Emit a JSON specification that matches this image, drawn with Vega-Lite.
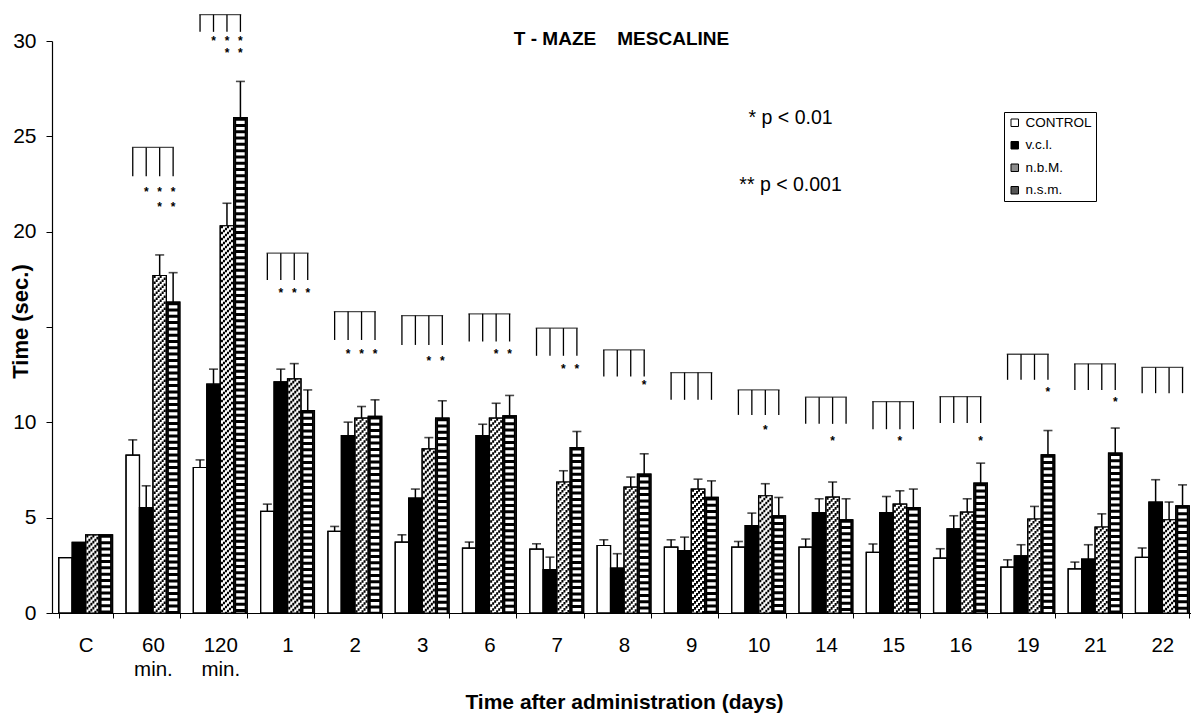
{
  "$schema": "https://vega.github.io/schema/vega-lite/v6.json",
  "autosize": {"type": "none"},
  "width": 1139,
  "height": 572,
  "padding": {"left": 52, "top": 41, "right": 0, "bottom": 102},
  "background": "white",
  "config": {"font": "Liberation Sans", "view": {"stroke": null}},
  "title": {"text": "T - MAZE\u00a0\u00a0\u00a0\u00a0MESCALINE", "fontSize": 19, "fontWeight": "bold", "font": "Liberation Sans", "color": "black", "anchor": "middle", "offset": 0, "dy": 35},
  "datasets": {
    "bars": [
      {"time": "C", "group": "CONTROL", "mean": 2.9, "upper": null},
      {"time": "C", "group": "v.c.l.", "mean": 3.7, "upper": null},
      {"time": "C", "group": "n.b.M.", "mean": 4.1, "upper": null},
      {"time": "C", "group": "n.s.m.", "mean": 4.1, "upper": null},
      {"time": "60 min.", "group": "CONTROL", "mean": 8.28, "upper": 9.08},
      {"time": "60 min.", "group": "v.c.l.", "mean": 5.53, "upper": 6.67},
      {"time": "60 min.", "group": "n.b.M.", "mean": 17.7, "upper": 18.78},
      {"time": "60 min.", "group": "n.s.m.", "mean": 16.3, "upper": 17.85},
      {"time": "120 min.", "group": "CONTROL", "mean": 7.63, "upper": 8.03},
      {"time": "120 min.", "group": "v.c.l.", "mean": 12.0, "upper": 12.79},
      {"time": "120 min.", "group": "n.b.M.", "mean": 20.31, "upper": 21.49},
      {"time": "120 min.", "group": "n.s.m.", "mean": 25.98, "upper": 27.88},
      {"time": "1", "group": "CONTROL", "mean": 5.33, "upper": 5.71},
      {"time": "1", "group": "v.c.l.", "mean": 12.12, "upper": 12.79},
      {"time": "1", "group": "n.b.M.", "mean": 12.28, "upper": 13.08},
      {"time": "1", "group": "n.s.m.", "mean": 10.62, "upper": 11.7},
      {"time": "2", "group": "CONTROL", "mean": 4.28, "upper": 4.54},
      {"time": "2", "group": "v.c.l.", "mean": 9.31, "upper": 10.01},
      {"time": "2", "group": "n.b.M.", "mean": 10.22, "upper": 10.83},
      {"time": "2", "group": "n.s.m.", "mean": 10.31, "upper": 11.18},
      {"time": "3", "group": "CONTROL", "mean": 3.72, "upper": 4.1},
      {"time": "3", "group": "v.c.l.", "mean": 6.03, "upper": 6.5},
      {"time": "3", "group": "n.b.M.", "mean": 8.61, "upper": 9.2},
      {"time": "3", "group": "n.s.m.", "mean": 10.22, "upper": 11.13},
      {"time": "6", "group": "CONTROL", "mean": 3.4, "upper": 3.72},
      {"time": "6", "group": "v.c.l.", "mean": 9.31, "upper": 9.9},
      {"time": "6", "group": "n.b.M.", "mean": 10.22, "upper": 11.0},
      {"time": "6", "group": "n.s.m.", "mean": 10.34, "upper": 11.41},
      {"time": "7", "group": "CONTROL", "mean": 3.35, "upper": 3.63},
      {"time": "7", "group": "v.c.l.", "mean": 2.27, "upper": 2.93},
      {"time": "7", "group": "n.b.M.", "mean": 6.87, "upper": 7.46},
      {"time": "7", "group": "n.s.m.", "mean": 8.68, "upper": 9.52},
      {"time": "8", "group": "CONTROL", "mean": 3.54, "upper": 3.84},
      {"time": "8", "group": "v.c.l.", "mean": 2.36, "upper": 3.11},
      {"time": "8", "group": "n.b.M.", "mean": 6.6, "upper": 7.13},
      {"time": "8", "group": "n.s.m.", "mean": 7.28, "upper": 8.35},
      {"time": "9", "group": "CONTROL", "mean": 3.46, "upper": 3.84},
      {"time": "9", "group": "v.c.l.", "mean": 3.27, "upper": 3.98},
      {"time": "9", "group": "n.b.M.", "mean": 6.5, "upper": 7.02},
      {"time": "9", "group": "n.s.m.", "mean": 6.06, "upper": 6.93},
      {"time": "10", "group": "CONTROL", "mean": 3.46, "upper": 3.75},
      {"time": "10", "group": "v.c.l.", "mean": 4.58, "upper": 5.24},
      {"time": "10", "group": "n.b.M.", "mean": 6.15, "upper": 6.78},
      {"time": "10", "group": "n.s.m.", "mean": 5.1, "upper": 6.06},
      {"time": "14", "group": "CONTROL", "mean": 3.46, "upper": 3.88},
      {"time": "14", "group": "v.c.l.", "mean": 5.27, "upper": 5.99},
      {"time": "14", "group": "n.b.M.", "mean": 6.08, "upper": 6.87},
      {"time": "14", "group": "n.s.m.", "mean": 4.89, "upper": 5.99},
      {"time": "15", "group": "CONTROL", "mean": 3.18, "upper": 3.62},
      {"time": "15", "group": "v.c.l.", "mean": 5.27, "upper": 6.11},
      {"time": "15", "group": "n.b.M.", "mean": 5.71, "upper": 6.41},
      {"time": "15", "group": "n.s.m.", "mean": 5.53, "upper": 6.5},
      {"time": "16", "group": "CONTROL", "mean": 2.88, "upper": 3.37},
      {"time": "16", "group": "v.c.l.", "mean": 4.42, "upper": 5.1},
      {"time": "16", "group": "n.b.M.", "mean": 5.29, "upper": 5.99},
      {"time": "16", "group": "n.s.m.", "mean": 6.81, "upper": 7.86},
      {"time": "19", "group": "CONTROL", "mean": 2.41, "upper": 2.79},
      {"time": "19", "group": "v.c.l.", "mean": 3.0, "upper": 3.58},
      {"time": "19", "group": "n.b.M.", "mean": 4.93, "upper": 5.59},
      {"time": "19", "group": "n.s.m.", "mean": 8.3, "upper": 9.57},
      {"time": "21", "group": "CONTROL", "mean": 2.31, "upper": 2.67},
      {"time": "21", "group": "v.c.l.", "mean": 2.83, "upper": 3.58},
      {"time": "21", "group": "n.b.M.", "mean": 4.51, "upper": 5.2},
      {"time": "21", "group": "n.s.m.", "mean": 8.39, "upper": 9.7},
      {"time": "22", "group": "CONTROL", "mean": 2.92, "upper": 3.41},
      {"time": "22", "group": "v.c.l.", "mean": 5.82, "upper": 6.99},
      {"time": "22", "group": "n.b.M.", "mean": 4.89, "upper": 5.82},
      {"time": "22", "group": "n.s.m.", "mean": 5.62, "upper": 6.72}
    ],
    "brackets": [
      {"time": "60 min.", "top": 24.42, "bottom": 22.9},
      {"time": "120 min.", "top": 31.38, "bottom": 30.48},
      {"time": "1", "top": 18.87, "bottom": 17.47},
      {"time": "2", "top": 15.81, "bottom": 14.32},
      {"time": "3", "top": 15.6, "bottom": 14.06},
      {"time": "6", "top": 15.69, "bottom": 14.24},
      {"time": "7", "top": 14.94, "bottom": 13.49},
      {"time": "8", "top": 13.8, "bottom": 12.4},
      {"time": "9", "top": 12.61, "bottom": 11.18},
      {"time": "10", "top": 11.7, "bottom": 10.39},
      {"time": "14", "top": 11.32, "bottom": 9.92},
      {"time": "15", "top": 11.09, "bottom": 9.64},
      {"time": "16", "top": 11.35, "bottom": 9.96},
      {"time": "19", "top": 13.57, "bottom": 12.23},
      {"time": "21", "top": 13.07, "bottom": 11.7},
      {"time": "22", "top": 12.88, "bottom": 11.53}
    ],
    "stars": [
      {"time": "60 min.", "group": "v.c.l.", "y": 22.24},
      {"time": "60 min.", "group": "n.b.M.", "y": 22.24},
      {"time": "60 min.", "group": "n.s.m.", "y": 22.24},
      {"time": "60 min.", "group": "n.b.M.", "y": 21.47},
      {"time": "60 min.", "group": "n.s.m.", "y": 21.47},
      {"time": "120 min.", "group": "v.c.l.", "y": 30.17},
      {"time": "120 min.", "group": "n.b.M.", "y": 30.17},
      {"time": "120 min.", "group": "n.s.m.", "y": 30.17},
      {"time": "120 min.", "group": "n.b.M.", "y": 29.52},
      {"time": "120 min.", "group": "n.s.m.", "y": 29.52},
      {"time": "1", "group": "v.c.l.", "y": 16.94},
      {"time": "1", "group": "n.b.M.", "y": 16.94},
      {"time": "1", "group": "n.s.m.", "y": 16.94},
      {"time": "2", "group": "v.c.l.", "y": 13.76},
      {"time": "2", "group": "n.b.M.", "y": 13.76},
      {"time": "2", "group": "n.s.m.", "y": 13.76},
      {"time": "3", "group": "n.b.M.", "y": 13.37},
      {"time": "3", "group": "n.s.m.", "y": 13.37},
      {"time": "6", "group": "n.b.M.", "y": 13.76},
      {"time": "6", "group": "n.s.m.", "y": 13.76},
      {"time": "7", "group": "n.b.M.", "y": 12.96},
      {"time": "7", "group": "n.s.m.", "y": 12.96},
      {"time": "8", "group": "n.s.m.", "y": 12.14},
      {"time": "10", "group": "n.b.M.", "y": 9.73},
      {"time": "14", "group": "n.b.M.", "y": 9.17},
      {"time": "15", "group": "n.b.M.", "y": 9.17},
      {"time": "16", "group": "n.s.m.", "y": 9.18},
      {"time": "19", "group": "n.s.m.", "y": 11.74},
      {"time": "21", "group": "n.s.m.", "y": 11.21}
    ],
    "notes": [
      {"time": "10", "y": 25.96, "label": "* p < 0.01"},
      {"time": "10", "y": 22.45, "label": "** p < 0.001"}
    ]
  },
  "encoding": {
    "x": {
      "field": "time", "type": "nominal",
      "sort": ["C","60 min.","120 min.","1","2","3","6","7","8","9","10","14","15","16","19","21","22"],
      "scale": {"domain": ["C","60 min.","120 min.","1","2","3","6","7","8","9","10","14","15","16","19","21","22"], "range": [0, 1144], "paddingInner": 0.2, "paddingOuter": 0.1},
      "axis": {
        "title": "Time after administration (days)",
        "labelExpr": "split(datum.label, ' ')",
        "labelAngle": 0, "labelFont": "Liberation Sans", "labelFontSize": 20.5, "labelLineHeight": 24, "labelPadding": 17, "labelColor": "black", "labelOverlap": false,
        "tickBand": "extent", "tickSize": 5, "tickColor": "black", "domainColor": "black", "domainWidth": 1.2,
        "titleFont": "Liberation Sans", "titleFontSize": 21, "titleFontWeight": "bold", "titleColor": "black", "titleY": 95, "titleBaseline": "alphabetic"
      }
    }
  },
  "layer": [
    {
      "data": {"name": "bars"},
      "mark": {"type": "bar", "stroke": "black", "strokeWidth": 1.2},
      "encoding": {
        "xOffset": {"field": "group", "type": "nominal", "sort": ["CONTROL","v.c.l.","n.b.M.","n.s.m."], "scale": {"domain": ["CONTROL","v.c.l.","n.b.M.","n.s.m."], "paddingInner": 0, "paddingOuter": 0}},
        "y": {"field": "mean", "type": "quantitative", "scale": {"domain": [0, 30], "nice": false},
          "axis": {"title": "Time (sec.)", "values": [0,5,10,15,20,25,30], "labelExpr": "datum.value == 15 ? '' : datum.label", "grid": false,
            "domainColor": "black", "domainWidth": 1.2, "tickColor": "black", "tickSize": 6, "labelPadding": 10, "labelFont": "Liberation Sans", "labelFontSize": 21, "labelColor": "black",
            "titleFont": "Liberation Sans", "titleFontSize": 22, "titleFontWeight": "bold", "titleColor": "black", "titleX": -20, "titleY": 280, "titleBaseline": "bottom"}},
        "fill": {"field": "group", "type": "nominal", "scale": {"domain": ["CONTROL","v.c.l.","n.b.M.","n.s.m."], "range": ["white","black","#8c8c8c","#555555"]},
          "legend": {"title": null, "orient": "none", "legendX": 952, "legendY": 71, "direction": "vertical", "symbolType": "square", "symbolSize": 56, "symbolStrokeColor": "black", "symbolStrokeWidth": 1, "labelFont": "Liberation Sans", "labelFontSize": 13.5, "labelColor": "black", "strokeColor": "black", "fillColor": "white", "padding": 4, "rowPadding": 7.5, "labelOffset": 4}}
      }
    },
    {
      "data": {"name": "bars"},
      "transform": [{"filter": "datum.group === 'n.b.M.'"}],
      "mark": {"type": "rule", "stroke": "white", "strokeWidth": 12},
      "encoding": {
        "xOffset": {"field": "group", "type": "nominal", "sort": ["CONTROL","v.c.l.","n.b.M.","n.s.m."]},
        "y": {"field": "mean", "type": "quantitative", "scale": {"domain": [0, 30], "nice": false}, "title": "Time (sec.)"},
        "y2": {"datum": 0}
      }
    },
    {
      "data": {"name": "bars"},
      "transform": [{"filter": "datum.group === 'n.b.M.'"}],
      "mark": {"type": "rule", "stroke": "black", "strokeWidth": 2, "strokeDash": [2.6, 3.4], "strokeDashOffset": 0, "xOffset": 1.73},
      "encoding": {"y": {"field": "mean", "type": "quantitative", "scale": {"domain": [0, 30], "nice": false}, "title": "Time (sec.)"}, "y2": {"datum": 0}}
    },
    {
      "data": {"name": "bars"},
      "transform": [{"filter": "datum.group === 'n.b.M.'"}],
      "mark": {"type": "rule", "stroke": "black", "strokeWidth": 2, "strokeDash": [2.6, 3.4], "strokeDashOffset": 2, "xOffset": 3.73},
      "encoding": {"y": {"field": "mean", "type": "quantitative", "scale": {"domain": [0, 30], "nice": false}, "title": "Time (sec.)"}, "y2": {"datum": 0}}
    },
    {
      "data": {"name": "bars"},
      "transform": [{"filter": "datum.group === 'n.b.M.'"}],
      "mark": {"type": "rule", "stroke": "black", "strokeWidth": 2, "strokeDash": [2.6, 3.4], "strokeDashOffset": 4, "xOffset": 5.73},
      "encoding": {"y": {"field": "mean", "type": "quantitative", "scale": {"domain": [0, 30], "nice": false}, "title": "Time (sec.)"}, "y2": {"datum": 0}}
    },
    {
      "data": {"name": "bars"},
      "transform": [{"filter": "datum.group === 'n.b.M.'"}],
      "mark": {"type": "rule", "stroke": "black", "strokeWidth": 2, "strokeDash": [2.6, 3.4], "strokeDashOffset": 6, "xOffset": 7.73},
      "encoding": {"y": {"field": "mean", "type": "quantitative", "scale": {"domain": [0, 30], "nice": false}, "title": "Time (sec.)"}, "y2": {"datum": 0}}
    },
    {
      "data": {"name": "bars"},
      "transform": [{"filter": "datum.group === 'n.b.M.'"}],
      "mark": {"type": "rule", "stroke": "black", "strokeWidth": 2, "strokeDash": [2.6, 3.4], "strokeDashOffset": 8, "xOffset": 9.73},
      "encoding": {"y": {"field": "mean", "type": "quantitative", "scale": {"domain": [0, 30], "nice": false}, "title": "Time (sec.)"}, "y2": {"datum": 0}}
    },
    {
      "data": {"name": "bars"},
      "transform": [{"filter": "datum.group === 'n.b.M.'"}],
      "mark": {"type": "rule", "stroke": "black", "strokeWidth": 2, "strokeDash": [2.6, 3.4], "strokeDashOffset": 10, "xOffset": 11.73},
      "encoding": {"y": {"field": "mean", "type": "quantitative", "scale": {"domain": [0, 30], "nice": false}, "title": "Time (sec.)"}, "y2": {"datum": 0}}
    },
    {
      "data": {"name": "bars"},
      "transform": [{"filter": "datum.group === 'n.s.m.'"}],
      "mark": {"type": "rule", "stroke": "black", "strokeWidth": 12},
      "encoding": {
        "xOffset": {"field": "group", "type": "nominal", "sort": ["CONTROL","v.c.l.","n.b.M.","n.s.m."]},
        "y": {"field": "mean", "type": "quantitative", "scale": {"domain": [0, 30], "nice": false}, "title": "Time (sec.)"},
        "y2": {"datum": 0}
      }
    },
    {
      "data": {"name": "bars"},
      "transform": [{"filter": "datum.group === 'n.s.m.'"}],
      "mark": {"type": "rule", "stroke": "white", "strokeWidth": 8.5, "strokeDash": [3.3, 3], "strokeDashOffset": 3.3},
      "encoding": {
        "xOffset": {"field": "group", "type": "nominal", "sort": ["CONTROL","v.c.l.","n.b.M.","n.s.m."]},
        "y": {"field": "mean", "type": "quantitative", "scale": {"domain": [0, 30], "nice": false}, "title": "Time (sec.)"},
        "y2": {"datum": 0}
      }
    },
    {
      "data": {"name": "bars"},
      "mark": {"type": "bar", "filled": false, "stroke": "black", "strokeWidth": 1.2},
      "encoding": {
        "xOffset": {"field": "group", "type": "nominal", "sort": ["CONTROL","v.c.l.","n.b.M.","n.s.m."]},
        "y": {"field": "mean", "type": "quantitative", "scale": {"domain": [0, 30], "nice": false}, "title": "Time (sec.)"}
      }
    },
    {
      "data": {"name": "bars"},
      "transform": [{"filter": "isValid(datum.upper)"}],
      "mark": {"type": "rule", "stroke": "black", "strokeWidth": 1.5},
      "encoding": {
        "xOffset": {"field": "group", "type": "nominal", "sort": ["CONTROL","v.c.l.","n.b.M.","n.s.m."]},
        "y": {"field": "upper", "type": "quantitative", "scale": {"domain": [0, 30], "nice": false}, "title": "Time (sec.)"},
        "y2": {"field": "mean"}
      }
    },
    {
      "data": {"name": "bars"},
      "transform": [{"filter": "isValid(datum.upper)"}],
      "mark": {"type": "tick", "color": "black", "size": 9, "thickness": 1.6},
      "encoding": {
        "xOffset": {"field": "group", "type": "nominal", "sort": ["CONTROL","v.c.l.","n.b.M.","n.s.m."]},
        "y": {"field": "upper", "type": "quantitative", "scale": {"domain": [0, 30], "nice": false}, "title": "Time (sec.)"}
      }
    },
    {
      "data": {"name": "brackets"},
      "mark": {"type": "tick", "color": "black", "size": 42, "thickness": 1.3},
      "encoding": {
        "y": {"field": "top", "type": "quantitative", "scale": {"domain": [0, 30], "nice": false}, "title": "Time (sec.)"}
      }
    },
    {
      "data": {"name": "bars"},
      "transform": [
        {"lookup": "time", "from": {"data": {"name": "brackets"}, "key": "time", "fields": ["top", "bottom"]}},
        {"filter": "isValid(datum.top)"}
      ],
      "mark": {"type": "rule", "stroke": "black", "strokeWidth": 1.3},
      "encoding": {
        "xOffset": {"field": "group", "type": "nominal", "sort": ["CONTROL","v.c.l.","n.b.M.","n.s.m."]},
        "y": {"field": "top", "type": "quantitative", "scale": {"domain": [0, 30], "nice": false}, "title": "Time (sec.)"},
        "y2": {"field": "bottom"}
      }
    },
    {
      "data": {"name": "stars"},
      "mark": {"type": "text", "text": "*", "fontSize": 12, "fontWeight": "bold", "color": "black", "baseline": "alphabetic", "dy": 7},
      "encoding": {
        "xOffset": {"field": "group", "type": "nominal", "sort": ["CONTROL","v.c.l.","n.b.M.","n.s.m."]},
        "y": {"field": "y", "type": "quantitative", "scale": {"domain": [0, 30], "nice": false}, "title": "Time (sec.)"}
      }
    },
    {
      "data": {"name": "notes"},
      "mark": {"type": "text", "fontSize": 19.5, "color": "black", "align": "center", "baseline": "middle", "dx": 32},
      "encoding": {
        "y": {"field": "y", "type": "quantitative", "scale": {"domain": [0, 30], "nice": false}, "title": "Time (sec.)"},
        "text": {"field": "label"}
      }
    }
  ]
}
